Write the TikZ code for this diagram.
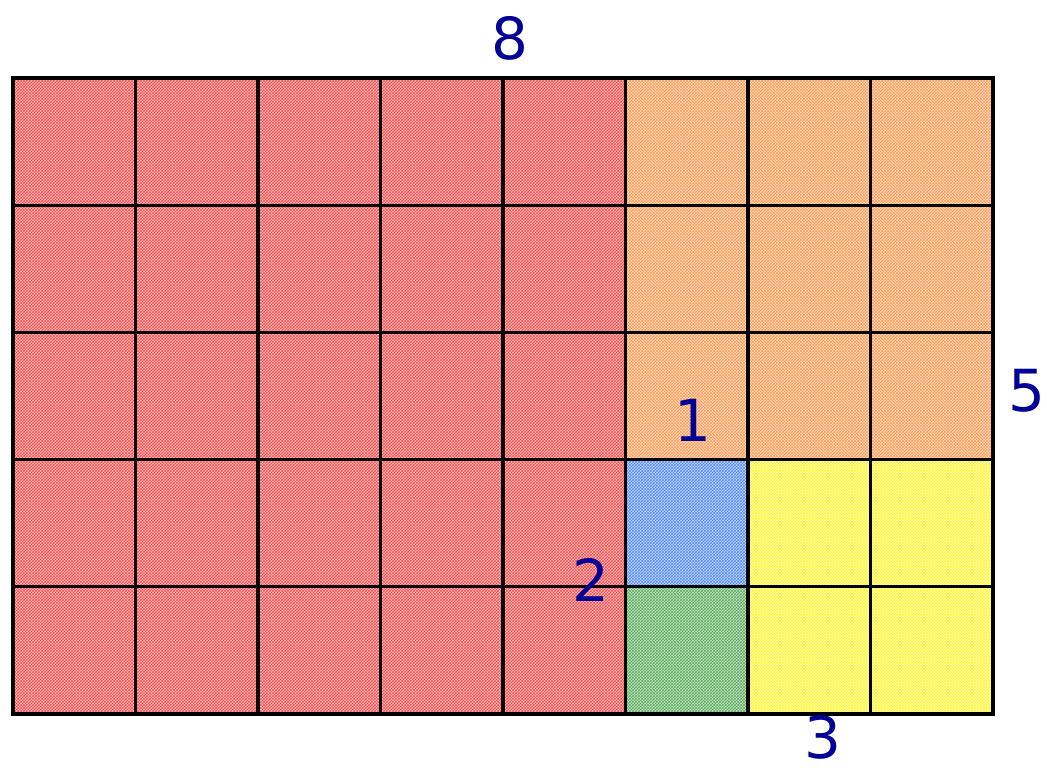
\documentclass[tikz,border=0pt]{standalone}
\usepackage{fontspec}
\setmainfont{DejaVu Sans}
\usetikzlibrary{patterns}
\definecolor{lab}{RGB}{0,0,150}
\definecolor{cred}{RGB}{255,30,30}
\definecolor{corange}{RGB}{255,130,40}
\definecolor{cblue}{RGB}{40,110,255}
\definecolor{cgreen}{RGB}{50,150,50}
\definecolor{cyellow}{RGB}{255,245,0}
\tikzset{
  cell/.style={draw=black, line width=3.2pt, minimum width=122.5pt, minimum height=127.2pt,
    inner sep=0pt, outer sep=0pt, anchor=north west,
    preaction={fill=#1!28!white}, preaction={pattern=crosshatch, pattern color=#1!80!white}},
  lbl/.style={text=lab, font=\fontsize{58}{68}\selectfont, inner sep=0pt, text depth=0pt}
}
\begin{document}
\begin{tikzpicture}[x=1pt,y=-1pt]
\useasboundingbox (0,0) rectangle (1047,768);
\foreach \r in {0,...,4}{
  \foreach \c in {0,...,7}{
    \pgfmathsetmacro{\xx}{13+122.5*\c}
    \pgfmathsetmacro{\yy}{78+127.2*\r}
    \ifnum\c<5
      \def\col{cred}
    \else
      \ifnum\r<3
        \def\col{corange}
      \else
        \ifnum\c=5
          \ifnum\r=3 \def\col{cblue}\else\def\col{cgreen}\fi
        \else
          \def\col{cyellow}
        \fi
      \fi
    \fi
    \node[cell=\col] (c-\r-\c) at (\xx,\yy) {};
  }
}
\node[lbl] (l8) at (510,38) {8};
\node[lbl] (l5) at (1027,390) {5};
\node[lbl] (l1) at (693,420) {1};
\node[lbl] (l2) at (591,580) {2};
\node[lbl] (l3) at (823,737) {3};
\end{tikzpicture}
\end{document}
